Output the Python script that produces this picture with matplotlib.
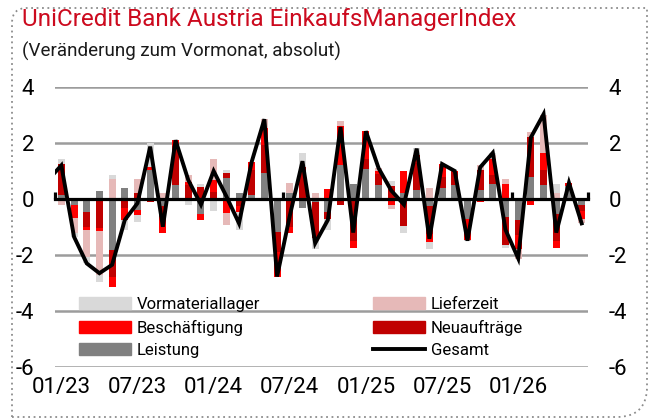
import numpy as np
import matplotlib
matplotlib.use('Agg')
import matplotlib.pyplot as plt
from matplotlib.lines import Line2D
from matplotlib.patches import Patch, PathPatch
from matplotlib.path import Path

plt.rcParams['font.family'] = ['Roboto', 'DejaVu Sans']
plt.rcParams['axes.unicode_minus'] = False

# months 12/22 .. 06/26 (first month lies outside the visible range)
months = ['12/22'] + [f'{m:02d}/{y % 100:02d}' for y in range(2023, 2027) for m in range(1, 13)][:42]

# contributions to the monthly change (absolute points)
leistung = [0.3, 0.15, -0.21, -0.48, 0.3, -1.82, 0.38, -0.39, 1.04, -0.25, 0.5,
            0.0, -0.55, 0.0, 0.74, 0.22, 0.13, 0.92, -1.17, 0.23, -0.32,
            -0.12, -0.45, 1.2, 0.55, 1.08, 0.5, 0.0, 0.2, 0.32, -0.25,
            0.38, 0.5, -0.7, 0.32, 0.52, -0.63, -0.75, 0.8, 0.5, -0.55,
            0.45, -0.22]
neuauftraege = [0.4, 1.1, 0.0, -0.51, -1.02, -0.95, -0.33, 0.2, -0.1, -0.38, 1.38,
                0.5, 0.42, 0.25, 0.18, -0.25, 0.9, 1.0, -0.71, -1.0, 1.15,
                -1.29, -0.25, -0.2, -1.5, 0.35, 0.4, 0.45, -0.96, 0.95, -1.0,
                0.4, 0.45, 0.0, 0.7, 0.35, -1.0, -0.55, 1.43, 0.54, -0.95,
                0.0, -0.2]
beschaeftigung = [0.0, 0.0, -0.48, -0.12, -0.14, -0.39, -0.42, -0.18, 0.1, -0.57, 0.22,
                  0.12, -0.2, 0.42, -0.5, -0.2, 0.3, 0.6, -0.89, -0.2, 0.0,
                  0.0, 0.35, 1.4, -0.25, 1.0, 0.1, -0.2, 0.8, 0.3, -0.3,
                  0.48, 0.05, -0.75, -0.1, 0.55, 0.54, -0.48, -0.2, 0.6, -0.25,
                  0.12, -0.3]
lieferzeit = [0.0, -0.2, -0.54, -0.95, -1.55, 0.72, 0.0, 0.5, 0.0, 0.2, 0.0,
              0.25, 0.0, 0.75, -0.42, 0.0, 0.0, 0.33, 0.0, 0.35, 0.0,
              0.2, 0.0, 0.2, 0.0, 0.0, 0.1, -0.15, 0.0, 0.0, 0.4,
              0.0, 0.0, 0.0, 0.2, 0.15, 0.18, -0.36, 0.18, 1.37, 0.2,
              0.0, -0.15]
lager = [0.0, 0.18, -0.12, -0.24, -0.24, 0.12, -0.35, -0.24, 0.86, 0.0, 0.0,
         -0.2, 0.12, -0.42, 0.12, -0.65, 0.0, 0.0, 0.0, 0.0, 0.5,
         -0.36, -0.4, 0.0, 0.0, 0.0, 0.0, 0.2, -0.24, 0.24, -0.25,
         0.0, 0.0, -0.05, 0.0, 0.08, -0.12, 0.0, 0.0, 0.0, 0.35,
         0.0, 0.0]
gesamt = [0.7, 1.2, -1.35, -2.3, -2.65, -2.35, -0.75, -0.15, 1.87, -0.99, 2.1,
          0.68, -0.2, 1.0, 0.1, -0.87, 1.33, 2.85, -2.77, -0.6, 1.35,
          -1.58, -0.75, 2.57, -1.2, 2.42, 1.1, 0.3, -0.2, 1.8, -1.42,
          1.25, 1.0, -1.49, 1.13, 1.65, -1.1, -2.12, 2.2, 3.03, -1.2,
          0.58, -0.87]

tick_labels = ['01/23', '07/23', '01/24', '07/24', '01/25', '07/25', '01/26']

series = [
    ('Leistung', leistung, '#808080'),
    ('Neuaufträge', neuauftraege, '#c00000'),
    ('Beschäftigung', beschaeftigung, '#ff0000'),
    ('Lieferzeit', lieferzeit, '#e6b9b8'),
    ('Vormateriallager', lager, '#d9d9d9'),
]

fig = plt.figure(figsize=(6.52, 4.18), dpi=100)
ax = fig.add_axes([55 / 652, 1 - 367 / 418, 533 / 652, 280 / 418])

x = np.arange(len(months))
pos_bottom = np.zeros(len(months))
neg_bottom = np.zeros(len(months))
for name, vals, col in series:
    v = np.array(vals)
    p = np.clip(v, 0, None)
    n = np.clip(v, None, 0)
    ax.bar(x, p, 0.55, bottom=pos_bottom, color=col, zorder=2)
    ax.bar(x, n, 0.55, bottom=neg_bottom, color=col, zorder=2)
    pos_bottom += p
    neg_bottom += n

ax.set_xlim(0.5, 42.5)
ax.set_ylim(-6, 4)
ax.set_yticks(range(-6, 5, 2))
ax.grid(axis='y', color='#9c9c9c', lw=1.8, zorder=0)
ax.set_axisbelow(True)
for s in ax.spines.values():
    s.set_visible(False)
label_pos = [months.index(t) for t in tick_labels]
ax.set_xticks(label_pos)
ax.set_xticklabels(tick_labels)
ax.tick_params(axis='x', length=0, pad=7, labelsize=16, colors='black')
ax.tick_params(axis='y', length=0, labelleft=True, labelright=True, pad=15,
               labelsize=16)

# zero axis with category tick marks every 18 months
ax2 = ax.twiny()
ax2.set_xlim(ax.get_xlim())
for k, s in ax2.spines.items():
    s.set_visible(k == 'bottom')
ax2.spines['bottom'].set_position(('data', 0))
ax2.spines['bottom'].set_linewidth(2.3)
ax2.spines['bottom'].set_zorder(3)
ax2.xaxis.set_ticks_position('bottom')
ax2.set_xticks([0.5, 18.5, 36.5, 42.5])
ax2.tick_params(axis='x', direction='in', length=5, width=2.3, labelbottom=False)
ax2.patch.set_visible(False)
ax2.plot(x, gesamt, color='black', lw=2.8, solid_joinstyle='miter')

handles = [
    Patch(color='#d9d9d9', label='Vormateriallager'),
    Patch(color='#ff0000', label='Beschäftigung'),
    Patch(color='#808080', label='Leistung'),
    Patch(color='#e6b9b8', label='Lieferzeit'),
    Patch(color='#c00000', label='Neuaufträge'),
    Line2D([], [], color='black', lw=2.8, label='Gesamt'),
]
leg = ax2.legend(handles=handles, ncol=2, loc='upper left',
                 bbox_to_anchor=(0.045, 0.25), frameon=False, fontsize=12,
                 borderpad=0, borderaxespad=0, handlelength=3.1,
                 handleheight=0.7, handletextpad=0.35, labelspacing=0.45,
                 columnspacing=6.8)

fig.text(22 / 652, 1 - 8 / 418, 'UniCredit Bank Austria EinkaufsManagerIndex',
         color='#cc0a1e', fontsize=17.5, va='top', ha='left')
fig.text(22 / 652, 1 - 42 / 418, '(Veränderung zum Vormonat, absolut)',
         color='#1a1a1a', fontsize=13.5, va='top', ha='left')

# dotted frame with rounded top-left and bottom-right corners
W, H = 652, 418
l, r, t, b = 12 / W, 647 / W, 1 - 8 / H, 1 - 417 / H
rx1, ry1 = 15 / W, 15 / H
rx2, ry2 = 30 / W, 30 / H
verts = [(l, b), (l, t - ry1), (l, t), (l + rx1, t), (r, t), (r, b + ry2),
         (r, b), (r - rx2, b), (l, b)]
codes = [Path.MOVETO, Path.LINETO, Path.CURVE3, Path.CURVE3, Path.LINETO,
         Path.LINETO, Path.CURVE3, Path.CURVE3, Path.LINETO]
fig.patches.append(PathPatch(Path(verts, codes), transform=fig.transFigure,
                             fill=False, ls=(0, (1, 2)), lw=1.3,
                             edgecolor='#8c8c8c'))

fig.savefig('out.png', dpi=100)
